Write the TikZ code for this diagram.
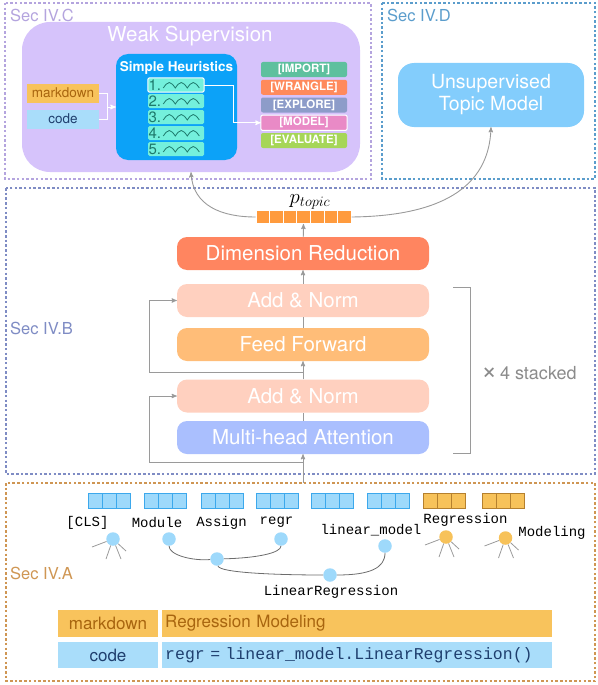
\documentclass[tikz,border=0pt]{standalone}
\usepackage{fontspec}
\setmainfont{TeX Gyre Heros}
\setmonofont{Liberation Mono}
\usetikzlibrary{positioning, arrows}

\definecolor{secC}{HTML}{B4A4DE}
\definecolor{secD}{HTML}{5B9DCC}
\definecolor{secB}{HTML}{7F8CC4}
\definecolor{secA}{HTML}{CF9653}
\definecolor{wsfill}{HTML}{D6C3FB}
\definecolor{shfill}{HTML}{0CA2F8}
\definecolor{itemfill}{HTML}{74F0DC}
\definecolor{itemtext}{HTML}{1E7A6C}
\definecolor{mdfill}{HTML}{F8C35C}
\definecolor{mdtext}{HTML}{A8650F}
\definecolor{codefill}{HTML}{A9DDFA}
\definecolor{codetext}{HTML}{1F3F6E}
\definecolor{impcol}{HTML}{5EC09E}
\definecolor{wracol}{HTML}{FF8A5C}
\definecolor{expcol}{HTML}{8D9CC9}
\definecolor{modcol}{HTML}{E98AC6}
\definecolor{evacol}{HTML}{A6D658}
\definecolor{utmfill}{HTML}{83CDFC}
\definecolor{drfill}{HTML}{FF8560}
\definecolor{anfill}{HTML}{FFD0BF}
\definecolor{fffill}{HTML}{FFBD78}
\definecolor{mhafill}{HTML}{AABFFE}
\definecolor{barfill}{HTML}{FF9B3E}
\definecolor{conncol}{HTML}{9A9A9A}
\definecolor{tokblue}{HTML}{9ED9FB}
\definecolor{tokblueline}{HTML}{3CA8EC}
\definecolor{tokorange}{HTML}{F7C25A}
\definecolor{tokorangeline}{HTML}{B5802E}

\begin{document}
\begin{tikzpicture}[x=1pt, y=-1pt, >=stealth',
	sec/.style={draw, line width=1.2pt, dash pattern=on 2.5pt off 2.2pt},
	seclabel/.style={anchor=west, inner sep=0pt, font=\fontsize{16.5}{18}\selectfont},
	block/.style={
		rectangle,
		rounded corners=10pt,
		minimum width=252pt, minimum height=33pt,
		inner sep=0pt, text=white,
		font=\fontsize{20.5}{24}\selectfont,
	},
	item/.style={rectangle, rounded corners=1.5pt, fill=itemfill, minimum width=56pt, minimum height=14pt, inner sep=0pt},
	stage/.style={rectangle, rounded corners=2pt, minimum width=86pt, minimum height=15pt, inner sep=0pt, text=white, font=\fontsize{11.5}{12}\selectfont\bfseries},
	srcbox/.style={rectangle, minimum width=72pt, minimum height=19pt, inner sep=0pt, font=\fontsize{13.5}{15}\selectfont},
	conn/.style={conncol, line width=0.9pt},
	tok/.style={rectangle, minimum width=14pt, minimum height=15pt, inner sep=0pt, line width=0.8pt},
	word/.style={inner sep=0pt, font=\fontsize{14}{16}\ttfamily},
	dot/.style={circle, minimum size=13.5pt, inner sep=0pt},
	cell/.style={rectangle, minimum height=27pt, inner sep=0pt, font=\fontsize{17}{19}\selectfont},
	]
	\useasboundingbox (0,0) rectangle (597,685);

	% section frames
	\draw[sec, secC] (5,3) rectangle (371,179);
	\draw[sec, secD] (382,3) rectangle (595,179);
	\draw[sec, secB] (6,188) rectangle (595,474);
	\draw[sec, secA] (6,483) rectangle (595,681);
	\node[seclabel, text=secC] (labC) at (10,15) {Sec IV.C};
	\node[seclabel, text=secD] (labD) at (387,15) {Sec IV.D};
	\node[seclabel, text=secB] (labB) at (10,328) {Sec IV.B};
	\node[seclabel, text=secA] (labA) at (10,573) {Sec IV.A};

	% Sec IV.C
	\node[rectangle, rounded corners=28pt, fill=wsfill, minimum width=338pt, minimum height=150pt] (WS) at (191,97) {};
	\node[text=white, font=\fontsize{20.5}{22}\selectfont] (wstitle) at (190,36) {Weak Supervision};
	\node[rectangle, rounded corners=12pt, fill=shfill, minimum width=121pt, minimum height=106pt] (SH) at (176.5,107) {};
	\node[text=white, font=\fontsize{13.5}{15}\selectfont\bfseries] (shtitle) at (176.5,68) {Simple Heuristics};
	\foreach \i/\y in {1/85,2/101,3/117,4/133,5/149}{
		\node[item] (h\i) at (176,\y) {};
		\node[anchor=west, inner sep=0pt, text=itemtext, font=\fontsize{15}{15}\selectfont] at ([xshift=0.5pt]h\i.west) {\i.};
		\draw[itemtext, line width=0.8pt] ([xshift=15.5pt, yshift=-3pt]h\i.west) sin ++(6,-5.5) cos ++(6,5.5) sin ++(6,-5.5) cos ++(6,5.5) sin ++(6,-5.5) cos ++(6,5.5);
	}
	\draw[white, line width=1pt, rounded corners=1.5pt] (h1.north west) rectangle (h1.south east);

	\node[srcbox, fill=mdfill, text=mdtext] (md) at (63,93) {markdown};
	\node[srcbox, fill=codefill, text=codetext] (cd) at (63,119) {code};
	\coordinate (mrg) at (107,107);
	\draw[white, line width=1pt] (md.east) -| (mrg) (cd.east) -| (mrg);
	\draw[->, white, line width=1pt] (mrg) -- (SH);

	\foreach \n/\t/\c [count=\k from 0] in {imp/IMPORT/impcol, wra/WRANGLE/wracol, exp/EXPLORE/expcol, mdl/MODEL/modcol, eva/EVALUATE/evacol}
		\node[stage, fill=\c] (\n) at (304,69.5+17.75*\k) {[\t]};
	\draw[white, line width=1pt, rounded corners=2pt] (mdl.north west) rectangle (mdl.south east);
	\draw[->, white, line width=1pt] (h1.east) -- ++(29,0) |- (mdl.west);

	% Sec IV.D
	\node[rectangle, rounded corners=16pt, fill=utmfill, minimum width=186pt, minimum height=64pt, text=white, align=center, font=\fontsize{19.5}{22}\selectfont] (UTM) at (491,95) {Unsupervised\\Topic Model};

	% Sec IV.B
	\node[block, fill=drfill] (DR) at (303,253.5) {Dimension Reduction};
	\node[block, fill=anfill, below of = DR, node distance=47pt] (AN1) {Add \& Norm};
	\node[block, fill=fffill, below of = AN1, node distance=44pt] (FF) {Feed Forward};
	\node[block, fill=anfill, below of = FF, node distance=51.5pt] (AN2) {Add \& Norm};
	\node[block, fill=mhafill, below of = AN2, node distance=41.5pt] (MHA) {Multi-head Attention};

	\foreach \i in {0,...,6}
		\node[rectangle, fill=barfill, draw=white, line width=0.8pt, minimum width=13.6pt, minimum height=13pt, inner sep=0pt] (p\i) at (262.8+13.6*\i,217) {};
	\node[inner sep=0pt, font=\fontsize{21}{22}\selectfont] (ptopic) at (310,202) {$p_{topic}$};

	\coordinate (inp) at (303,483);
	\coordinate (fork1) at (303,372);
	\coordinate (fork2) at (303,462);
	\path[conn] (AN1) edge[->] (DR)
	(FF) edge (AN1)
	(AN2) edge[->] (FF)
	(MHA) edge (AN2)
	(inp) edge[->] (MHA)
	(DR) edge[->] (p3);
	\draw[conn, ->] (fork1) -| ([xshift=-27pt]AN1.west) -- (AN1.west);
	\draw[conn, ->] (fork2) -| ([xshift=-27pt]AN2.west) -- (AN2.west);
	\draw[conn, ->] (p0.west) .. controls (222,217) and (193,206) .. (WS.south);
	\draw[conn, ->] (p6.east) .. controls (440,216) and (489,188) .. (UTM.south);

	\draw[conncol, line width=1pt] (453,287) -- (470,287) -- (470,453) -- (453,453);
	\node[text=conncol!90!black, font=\fontsize{18}{20}\selectfont] (stk) at (529,373) {{\fontsize{27}{20}\selectfont ×}\,4 stacked};

	% Sec IV.A
	\foreach \x/\f/\d [count=\k] in {88/tokblue/tokblueline, 144/tokblue/tokblueline, 201/tokblue/tokblueline, 256/tokblue/tokblueline, 311/tokblue/tokblueline, 367/tokblue/tokblueline, 423/tokorange/tokorangeline, 482/tokorange/tokorangeline}
		\foreach \j in {0,1,2}
			\node[tok, fill=\f, draw=\d] (t\k-\j) at (\x+7+14*\j,500.5) {};

	\node[word] (wcls) at (87.5,523) {[CLS]};
	\node[word] (wmod) at (157,523) {Module};
	\node[word] (wasg) at (221.5,523) {Assign};
	\node[word] (wregr) at (276.5,522) {regr};
	\node[word] (wlin) at (371,530) {linear\_model};
	\node[word] (wreg) at (465.5,520) {Regression};
	\node[word] (wmdl) at (552,533) {Modeling};
	\node[word] (wlr) at (331,592) {LinearRegression};

	\node[dot, fill=tokblue] (ncls) at (113,539) {};
	\node[dot, fill=tokblue] (nmod) at (169,539) {};
	\node[dot, fill=tokblue] (nregr) at (281,539) {};
	\node[dot, fill=tokblue] (nmid) at (217,559) {};
	\node[dot, fill=tokblue] (nlin) at (385,546) {};
	\node[dot, fill=tokblue] (nlr) at (330,575) {};
	\node[dot, fill=tokorange] (nreg) at (446,537) {};
	\node[dot, fill=tokorange] (nmdl) at (505.5,538) {};

	\draw[conncol!70!black, line width=0.8pt] (nmod) .. controls +(0,16) and +(-25,2) .. (nmid);
	\draw[conncol!70!black, line width=0.8pt] (nmid) .. controls +(40,-1) and +(0,14) .. (nregr);
	\draw[conncol!70!black, line width=0.8pt] (nmid) .. controls +(2,14) and +(-50,0) .. (nlr);
	\draw[conncol!70!black, line width=0.8pt] (nlr) .. controls +(40,0) and +(0,22) .. (nlin);
	\foreach \n in {ncls,nreg,nmdl}
		\foreach \dx/\dy in {-21/8,-7/20,8/20,13/12}
			\draw[conncol, line width=0.8pt] (\n) -- ++(\dx,\dy);

	\node[cell, fill=mdfill, text=mdtext, minimum width=100pt] (tmd) at (108,623.5) {markdown};
	\node[cell, fill=mdfill, text=mdtext, anchor=west, text width=384pt, inner xsep=3pt, align=left] (tmdtxt) at (162,623.5) {Regression Modeling};
	\node[cell, fill=codefill, text=codetext, minimum width=100pt, minimum height=26pt] (tcd) at (108,655) {code};
	\node[cell, fill=codefill, text=codetext, anchor=west, text width=384pt, inner xsep=3pt, align=left, minimum height=26pt, font=\fontsize{16.5}{18}\ttfamily] (tcdtxt) at (162,655) {regr = linear\_model.LinearRegression()};
\end{tikzpicture}
\end{document}
